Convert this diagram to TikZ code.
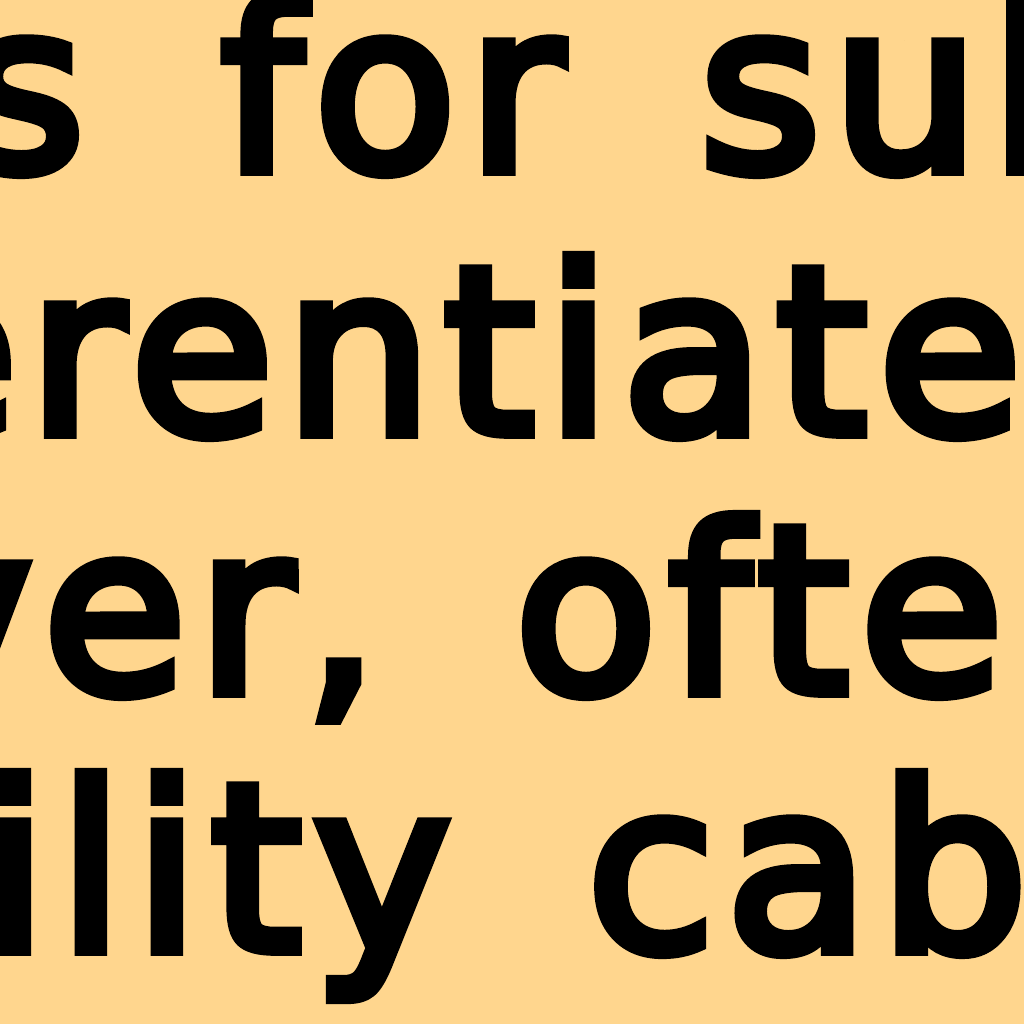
\documentclass[tikz,border=0pt]{standalone}
\usepackage{fontspec}
\newfontfamily\pxfont[FakeBold=5,WordSpace=1.6,LetterSpace=5]{DejaVu Sans}
\definecolor{paper}{RGB}{255,214,142}
\tikzset{txt/.style={anchor=base west, inner sep=0pt, font=\pxfont\fontsize{66}{66}\selectfont}}

\begin{document}
\begin{tikzpicture}
\useasboundingbox (0,0) rectangle (10.24,10.24);
\fill[paper] (0,0) rectangle (10.24,10.24);
\clip (0,0) rectangle (10.24,10.24);

\node (lineA) [txt] at (-0.37,8.54) {s for sub};
\node (lineB) [txt] at (-1.26,5.91) {erentiate};
\node (lineC) [txt] at (-1.06,3.32) {ver, ofte};
\node (lineD) [txt] at (-0.18,0.74) {ility cab};
\end{tikzpicture}
\end{document}
